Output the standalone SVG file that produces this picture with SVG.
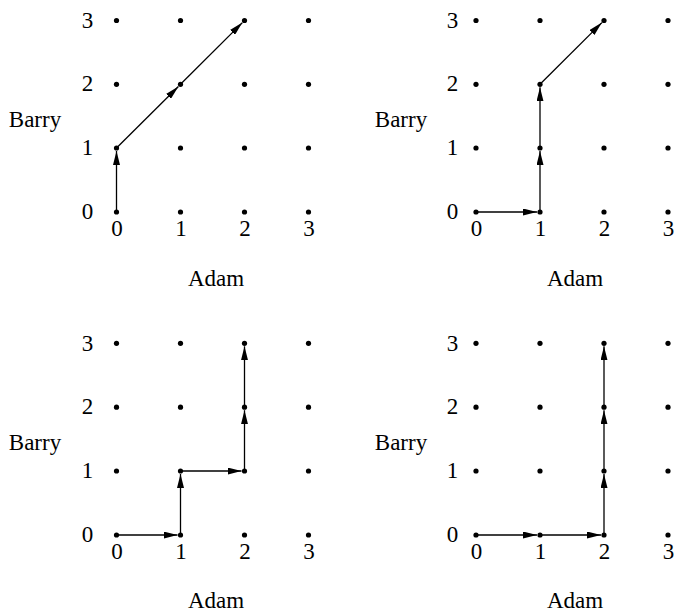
<svg xmlns="http://www.w3.org/2000/svg" width="675" height="611" viewBox="0 0 675 611">
<style>
text{font-family:"Liberation Serif","Times New Roman",serif;font-size:23px;fill:#000;text-anchor:middle}
.d{fill:#000}
.c line{stroke:#000;stroke-width:1.3;marker-end:url(#ah)}
</style>
<defs>
<marker id="ah" viewBox="0 0 14 7" refX="14" refY="3.5" markerWidth="14" markerHeight="7" markerUnits="userSpaceOnUse" orient="auto">
<path d="M0,0 L14,3.5 L0,7 Z" fill="#000"/>
</marker>
<g id="dots4">
<circle class="d" cx="0" cy="0" r="2.6"/><circle class="d" cx="64" cy="0" r="2.6"/><circle class="d" cx="128" cy="0" r="2.6"/><circle class="d" cx="192" cy="0" r="2.6"/>
</g>
</defs>

<g id="panel-tl">
<use href="#dots4" x="116.5" y="20.5"/><use href="#dots4" x="116.5" y="84.3"/><use href="#dots4" x="116.5" y="148"/><use href="#dots4" x="116.5" y="212"/>
<text x="87.5" y="27.5">3</text><text x="87.5" y="91.3">2</text><text x="87.5" y="155">1</text><text x="87.5" y="219">0</text>
<text x="117" y="235.5">0</text><text x="181" y="235.5">1</text><text x="245" y="235.5">2</text><text x="309" y="235.5">3</text>
<text x="35" y="126.5">Barry</text>
<text x="216" y="285.5">Adam</text>
</g>

<g id="panel-tr">
<use href="#dots4" x="476" y="20.5"/><use href="#dots4" x="476" y="84.3"/><use href="#dots4" x="476" y="148"/><use href="#dots4" x="476" y="212"/>
<text x="452.5" y="27.5">3</text><text x="452.5" y="91.3">2</text><text x="452.5" y="155">1</text><text x="452.5" y="219">0</text>
<text x="476.5" y="235.5">0</text><text x="540.5" y="235.5">1</text><text x="604.5" y="235.5">2</text><text x="668.5" y="235.5">3</text>
<text x="401" y="126.5">Barry</text>
<text x="575" y="285.5">Adam</text>
</g>

<g id="panel-bl">
<use href="#dots4" x="116.5" y="343.3"/><use href="#dots4" x="116.5" y="407.2"/><use href="#dots4" x="116.5" y="471"/><use href="#dots4" x="116.5" y="535"/>
<text x="87.5" y="350.5">3</text><text x="87.5" y="414.3">2</text><text x="87.5" y="478">1</text><text x="87.5" y="542">0</text>
<text x="117" y="558.5">0</text><text x="181" y="558.5">1</text><text x="245" y="558.5">2</text><text x="309" y="558.5">3</text>
<text x="35" y="449.5">Barry</text>
<text x="216" y="607.5">Adam</text>
</g>

<g id="panel-br">
<use href="#dots4" x="476" y="343.3"/><use href="#dots4" x="476" y="407.2"/><use href="#dots4" x="476" y="471"/><use href="#dots4" x="476" y="535"/>
<text x="452.5" y="350.5">3</text><text x="452.5" y="414.3">2</text><text x="452.5" y="478">1</text><text x="452.5" y="542">0</text>
<text x="476.5" y="558.5">0</text><text x="540.5" y="558.5">1</text><text x="604.5" y="558.5">2</text><text x="668.5" y="558.5">3</text>
<text x="401" y="449.5">Barry</text>
<text x="575" y="607.5">Adam</text>
</g>

<g id="connectors" class="c">
<line x1="116.5" y1="212" x2="116.5" y2="151"/>
<line x1="116.5" y1="148" x2="178.4" y2="86.5"/>
<line x1="180.5" y1="84.3" x2="242.4" y2="22.6"/>

<line x1="476" y1="212" x2="537" y2="212"/>
<line x1="540" y1="212" x2="540" y2="151"/>
<line x1="540" y1="148" x2="540" y2="87.3"/>
<line x1="540" y1="84.3" x2="601.9" y2="22.6"/>

<line x1="116.5" y1="535" x2="177.5" y2="535"/>
<line x1="180.5" y1="535" x2="180.5" y2="474"/>
<line x1="180.5" y1="471" x2="241.5" y2="471"/>
<line x1="244.5" y1="471" x2="244.5" y2="410.2"/>
<line x1="244.5" y1="407.2" x2="244.5" y2="346.3"/>

<line x1="476" y1="535" x2="537" y2="535"/>
<line x1="540" y1="535" x2="601" y2="535"/>
<line x1="604" y1="535" x2="604" y2="474"/>
<line x1="604" y1="471" x2="604" y2="410.2"/>
<line x1="604" y1="407.2" x2="604" y2="346.3"/>
</g>
</svg>
